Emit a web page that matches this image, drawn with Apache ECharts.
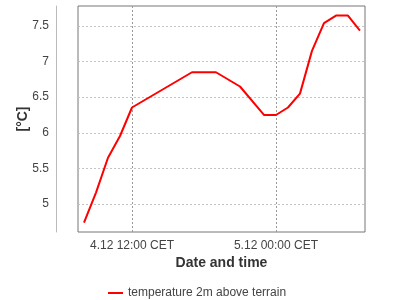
<!DOCTYPE html>
<html><head><meta charset="utf-8">
<script src="https://cdn.jsdelivr.net/npm/echarts@6/dist/echarts.min.js"></script>
<style>html,body{margin:0;padding:0;background:#fff}#c{width:400px;height:300px}</style>
</head><body><div id="c"></div>
<script>
// hours since 4.12 00:00 CET
const hours = [8, 9, 10, 11, 12, 17, 19, 21, 23, 24, 25, 26, 27, 28, 29, 30, 31];
const temps = [4.74, 5.16, 5.65, 5.955, 6.355, 6.85, 6.85, 6.65, 6.25, 6.25, 6.355, 6.55, 7.15, 7.54, 7.645, 7.645, 7.435];
const xTicks = [12, 24];
const xTickLabels = ['4.12 12:00 CET', '5.12 00:00 CET'];
const yTicks = [5, 5.5, 6, 6.5, 7, 7.5];
const seriesName = 'temperature 2m above terrain';

const chart = echarts.init(document.getElementById('c'));
const font = 'Liberation Sans, Arial, sans-serif';
chart.setOption({
  animation: false,
  textStyle: {fontFamily: font},
  grid: {left: 78, right: 35, top: 6, bottom: 68, show: true, borderColor: '#777', borderWidth: 1, backgroundColor: '#fff'},
  xAxis: {
    type: 'value', min: 7.5, max: 31.42,
    name: 'Date and time', nameLocation: 'middle', nameGap: 24, nameMoveOverlap: false,
    nameTextStyle: {fontWeight: 'bold', fontSize: 14, color: '#333', fontFamily: font},
    axisLine: {show: false},
    axisTick: {show: false, customValues: xTicks},
    axisLabel: {customValues: xTicks, color: '#444', fontSize: 12, margin: 8, fontFamily: font,
      formatter: v => xTickLabels[xTicks.indexOf(v)] || ''},
    splitLine: {show: true, lineStyle: {color: '#999', type: [2, 2], width: 1}}
  },
  yAxis: {
    type: 'value', min: 4.607, max: 7.78, offset: 22,
    name: '[°C]', nameLocation: 'middle', nameGap: 26, nameRotate: 90, nameMoveOverlap: false,
    nameTextStyle: {fontWeight: 'bold', fontSize: 14, color: '#333', fontFamily: font},
    axisLine: {show: true, lineStyle: {color: '#bbb', width: 1}},
    axisTick: {show: false, customValues: yTicks},
    axisLabel: {customValues: yTicks, color: '#444', fontSize: 12, margin: 7, fontFamily: font,
      formatter: v => String(v)},
    splitLine: {show: true, lineStyle: {color: '#c4c4c4', type: [2, 2], width: 1}}
  },
  legend: {
    left: 103, top: 282, icon: 'rect', itemWidth: 15, itemHeight: 2, itemGap: 10,
    textStyle: {color: '#444', fontSize: 12, fontFamily: font},
    data: [seriesName]
  },
  series: [{
    name: seriesName, type: 'line', symbol: 'none',
    lineStyle: {color: '#ff0000', width: 2}, itemStyle: {color: '#ff0000'},
    data: hours.map((h, i) => [h, temps[i]])
  }]
});
</script></body></html>
